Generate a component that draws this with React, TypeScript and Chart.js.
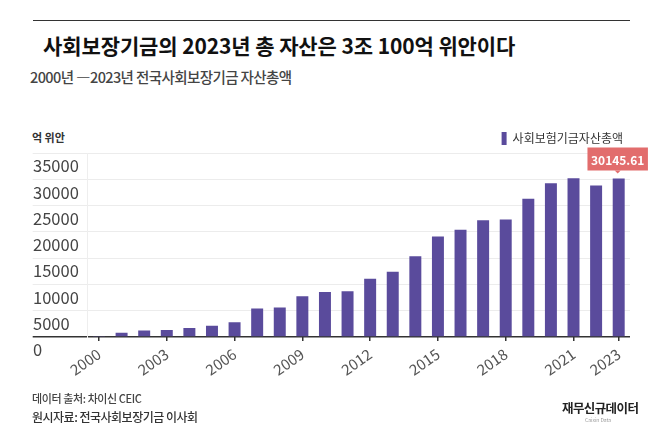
import React, { useEffect, useRef } from "react";
import { Chart, registerables } from "chart.js";

Chart.register(...registerables);

const years = [
  "2000", "2001", "2002", "2003", "2004", "2005", "2006", "2007",
  "2008", "2009", "2010", "2011", "2012", "2013", "2014", "2015",
  "2016", "2017", "2018", "2019", "2020", "2021", "2022", "2023",
];
const totalAssets = [
  201, 805, 1242, 1325, 1711, 2118, 2828, 5400,
  5624, 7766, 8567, 8688, 11060, 12416, 15356, 19138,
  20423, 22231, 22354, 26286, 29227, 30198, 28836, 30145.61,
];
const shownYears = ["2000", "2003", "2006", "2009", "2012", "2015", "2018", "2021", "2023"];
const yTicks = [0, 5000, 10000, 15000, 20000, 25000, 30000, 35000];
const seriesName = "사회보험기금자산총액";
const calloutText = "30145.61";

const FONT = "'Noto Sans CJK KR', 'Noto Sans', sans-serif";
const BAR = "#5a4b9c";

const calloutPlugin = {
  id: "callout",
  afterDatasetsDraw(chart: any) {
    const meta = chart.getDatasetMeta(0);
    const el = meta.data[meta.data.length - 1];
    if (!el) return;
    const ctx = chart.ctx;
    ctx.save();
    ctx.font = `bold 12px ${FONT}`;
    const tw = ctx.measureText(calloutText).width;
    const w = tw + 7;
    const h = 23;
    const cx = el.x - 1;
    const bottom = el.y - 8;
    const top = bottom - h;
    ctx.fillStyle = "#e26d6d";
    ctx.beginPath();
    ctx.rect(cx - w / 2, top, w, h);
    ctx.fill();
    ctx.beginPath();
    ctx.moveTo(cx - 3, bottom);
    ctx.lineTo(cx + 3, bottom);
    ctx.lineTo(cx, bottom + 3);
    ctx.closePath();
    ctx.fill();
    ctx.fillStyle = "#ffffff";
    ctx.textAlign = "center";
    ctx.textBaseline = "middle";
    ctx.fillText(calloutText, cx, top + h / 2 + 1);
    ctx.restore();
  },
};

function BarChart() {
  const ref = useRef<HTMLCanvasElement | null>(null);
  useEffect(() => {
    if (!ref.current) return;
    const chart = new Chart(ref.current, {
      type: "bar",
      data: {
        labels: years,
        datasets: [
          {
            label: seriesName,
            data: totalAssets,
            backgroundColor: BAR,
            borderWidth: 0,
            barPercentage: 0.53,
            categoryPercentage: 1,
            minBarLength: 1,
          },
        ],
      },
      options: {
        responsive: false,
        animation: false,
        events: [],
        layout: { padding: { top: 125, left: 33, right: 28, bottom: 60 } },
        plugins: {
          tooltip: { enabled: false },
          legend: {
            display: true,
            position: "top",
            align: "end",
            maxHeight: 28,
            labels: {
              boxWidth: 5,
              boxHeight: 13,
              padding: 7,
              color: "#333",
              font: { family: FONT, size: 12 },
            },
          },
        },
        scales: {
          x: {
            offset: true,
            afterFit(scale: any) {
              scale.height = 40;
            },
            grid: {
              offset: false,
              drawOnChartArea: false,
              drawTicks: true,
              tickLength: 4,
              lineWidth: 1.5,
              color: (c: any) =>
                c.index !== undefined && shownYears.includes(years[c.index]) ? "#333" : "rgba(0,0,0,0)",
            },
            border: { display: false },
            ticks: {
              autoSkip: false,
              minRotation: 35,
              maxRotation: 35,
              padding: 4,
              color: "#555",
              font: { family: FONT, size: 15 },
              callback: (_v: any, i: number) => (shownYears.includes(years[i]) ? years[i] : ""),
            },
          },
          y: {
            min: 0,
            max: 35000,
            afterFit(scale: any) {
              scale.width = 54.7;
            },
            afterBuildTicks(scale: any) {
              scale.ticks = yTicks.map((v) => ({ value: v }));
            },
            grid: {
              drawTicks: true,
              tickLength: 55,
              color: (c: any) => (c.tick && c.tick.value === 0 ? "#333" : "#ececec"),
              lineWidth: (c: any) => (c.tick && c.tick.value === 0 ? 1.5 : 1),
            },
            border: { display: true, color: "#eeeeee", width: 1 },
            ticks: {
              crossAlign: "far",
              labelOffset: 13,
              padding: 0,
              color: "#444",
              font: { family: FONT, size: 16.5 },
              callback: (v: any) => String(v),
            },
          },
        },
      },
      plugins: [calloutPlugin],
    });
    return () => chart.destroy();
  }, []);
  return <canvas ref={ref} width={658} height={437} style={{ position: "absolute", left: 0, top: 0 }} />;
}

export default function App() {
  const abs = (s: any): React.CSSProperties => ({ position: "absolute", whiteSpace: "nowrap", fontFamily: FONT, ...s });
  return (
    <div style={{ position: "fixed", left: 0, top: 0, width: 658, height: 437, background: "#fff", overflow: "hidden" }}>
      <div style={abs({ left: 33, top: 20, width: 597, height: 0, borderTop: "1.5px solid #333" })} />
      <div style={abs({ left: 43, top: 30, fontSize: 21, lineHeight: "30px", fontWeight: 700, color: "#111", letterSpacing: "-0.1px" })}>
        사회보장기금의 2023년 총 자산은 3조 100억 위안이다
      </div>
      <div style={abs({ left: 30, top: 67, fontSize: 14.5, lineHeight: "20px", fontWeight: 500, color: "#444", letterSpacing: "-0.6px" })}>
        2000년 ―2023년 전국사회보장기금 자산총액
      </div>
      <div style={abs({ left: 32, top: 129, fontSize: 11, lineHeight: "16px", fontWeight: 700, color: "#333" })}>
        억 위안
      </div>
      <BarChart />
      <div style={abs({ left: 32, top: 390, fontSize: 11, lineHeight: "16px", fontWeight: 500, color: "#444", letterSpacing: "-0.4px" })}>
        데이터 출처: 차이신 CEIC
      </div>
      <div style={abs({ left: 32, top: 408, fontSize: 12, lineHeight: "18px", fontWeight: 500, color: "#333", letterSpacing: "-0.5px" })}>
        원시자료: 전국사회보장기금 이사회
      </div>
      <div style={abs({ left: 562, top: 400, fontSize: 12.5, lineHeight: "16px", fontWeight: 700, color: "#222", letterSpacing: "-0.6px" })}>
        재무신규데이터
      </div>
      <div style={abs({ left: 585, top: 417, fontSize: 5, lineHeight: "6px", color: "#999" })}>
        Caixin Data
      </div>
    </div>
  );
}
